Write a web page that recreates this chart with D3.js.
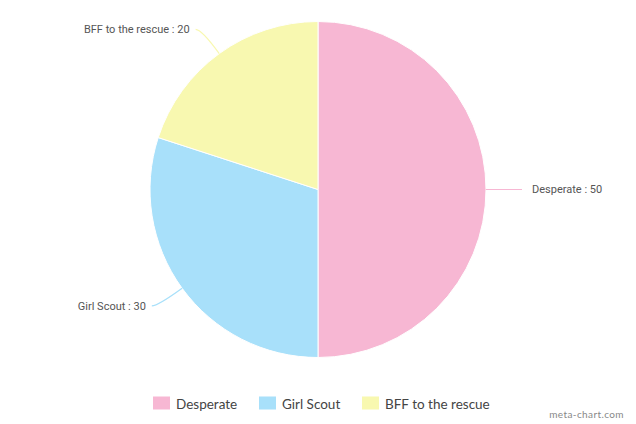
<!DOCTYPE html>
<html><head><meta charset="utf-8">
<script src="https://cdn.jsdelivr.net/npm/d3@7"></script>
<style>body{margin:0;background:#fff;}svg{display:block;}</style>
</head><body>
<svg id="c" width="636" height="424"></svg>
<script>
const categories = ["Desperate", "Girl Scout", "BFF to the rescue"];
const values = [50, 30, 20];
const colors = ["#f7b7d3", "#a8e0fa", "#f8f8b0"];

const svg = d3.select("#c");
const cx = 318, cy = 189.5, r = 168;
const g = svg.append("g").attr("transform", `translate(${cx},${cy})`);
const pie = d3.pie().sort(null).value(d => d.v);
const arcs = pie(categories.map((c, i) => ({c, v: values[i], col: colors[i]})));
const arc = d3.arc().innerRadius(0).outerRadius(r);

g.selectAll("path.s").data(arcs).join("path").attr("class", "s")
  .attr("d", arc).attr("fill", d => d.data.col)
  .attr("stroke", "#fff").attr("stroke-width", 1);

arcs.forEach(d => {
  const a = (d.startAngle + d.endAngle) / 2;
  const sx = Math.sin(a), sy = -Math.cos(a);
  const p0 = [r * sx, r * sy];
  const p1 = [(r + 30) * sx, (r + 30) * sy];
  const right = sx >= 0;
  const ex = p1[0] + (right ? 6 : -6);
  g.append("path")
    .attr("d", `M${p0[0]},${p0[1]} Q${p1[0]},${p1[1]} ${ex},${p1[1]}`)
    .attr("fill", "none").attr("stroke", d.data.col).attr("stroke-width", 1.2);
  g.append("text")
    .attr("x", ex + (right ? 10 : -6)).attr("y", p1[1])
    .attr("dy", "0.35em")
    .attr("text-anchor", right ? "start" : "end")
    .attr("font-family", "Roboto, 'Liberation Sans', sans-serif")
    .attr("font-size", 11).attr("fill", "#555")
    .text(`${d.data.c} : ${d.data.v}`);
});

// legend
const lx = [153, 259, 362];
const lg = svg.append("g");
categories.forEach((c, i) => {
  lg.append("rect").attr("x", lx[i]).attr("y", 396.5).attr("width", 17).attr("height", 13)
    .attr("fill", colors[i]);
  lg.append("text").attr("x", lx[i] + 23).attr("y", 408.5)
    .attr("font-family", "Lato, 'Open Sans', sans-serif").attr("font-size", 13.5)
    .attr("fill", "#444").text(c);
});

svg.append("text").attr("x", 624).attr("y", 418).attr("text-anchor", "end")
  .attr("font-family", "Lato, sans-serif").attr("font-size", 10)
  .attr("letter-spacing", 0.4).attr("fill", "#888").text("meta-chart.com");
</script>
</body></html>
